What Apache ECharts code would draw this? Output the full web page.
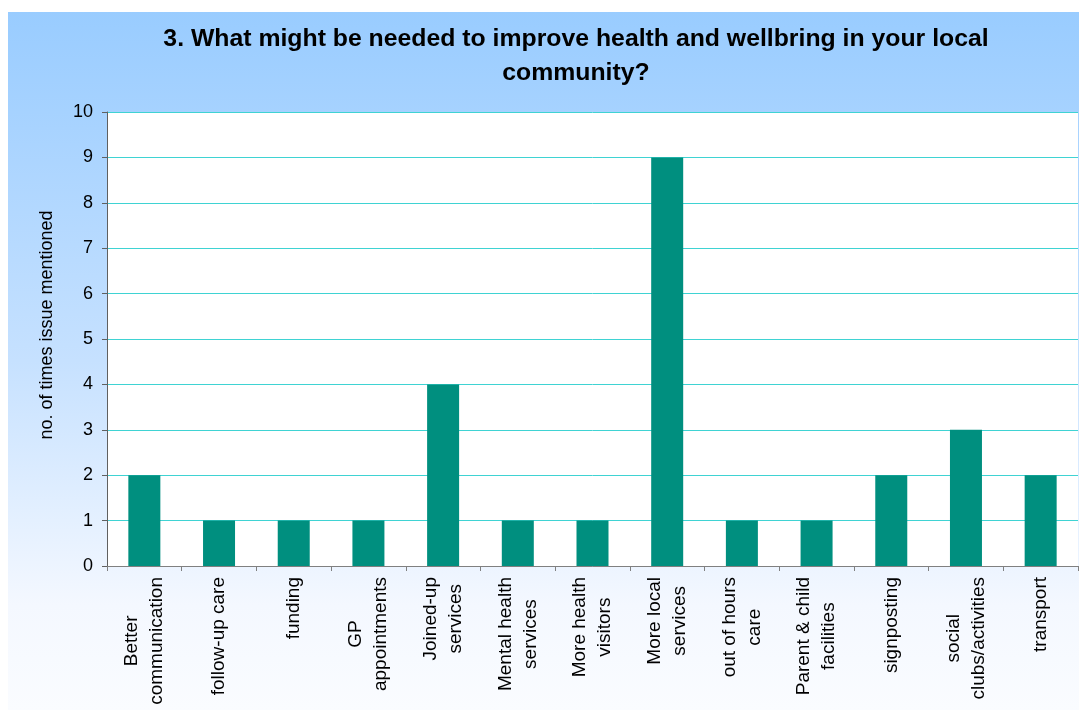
<!DOCTYPE html>
<html>
<head>
<meta charset="utf-8">
<script src="https://cdn.jsdelivr.net/npm/echarts@6/dist/echarts.min.js"></script>
<style>
html,body{margin:0;padding:0;background:#fff;}
#bg{position:absolute;left:8px;top:12px;width:1071px;height:698px;background:linear-gradient(to bottom,#99CCFF 0%,#C6E1FF 50%,#F4F8FF 85%,#FAFCFF 100%);}
#chart{position:absolute;left:0;top:0;width:1079px;height:710px;}
</style>
</head>
<body>
<div id="bg"></div>
<div id="chart"></div>
<script>
const titleText = "3. What might be needed to improve health and wellbring in your local\ncommunity?";
const categories = [
  "Better\ncommunication",
  "follow-up care",
  "funding",
  "GP\nappointments",
  "Joined-up\nservices",
  "Mental health\nservices",
  "More health\nvisitors",
  "More local\nservices",
  "out of hours\ncare",
  "Parent & child\nfacilities",
  "signposting",
  "social\nclubs/activities",
  "transport"
];
const counts = [2, 1, 1, 1, 4, 1, 1, 9, 1, 1, 2, 3, 2];
const yAxisName = "no. of times issue mentioned";
const yMin = 0, yMax = 10, yInterval = 1;

const FONT = 'Liberation Sans, Arial, sans-serif';
const chart = echarts.init(document.getElementById('chart'), null, {renderer: 'canvas'});
chart.setOption({
  backgroundColor: 'transparent',
  animation: false,
  title: {
    text: titleText,
    left: 571,
    top: 17,
    textAlign: 'center',
    textStyle: {
      fontFamily: FONT,
      fontSize: 24.8,
      fontWeight: 'bold',
      color: '#000',
      lineHeight: 34
    }
  },
  grid: {
    left: 107,
    top: 112,
    right: 1,
    bottom: 144,
    show: true,
    backgroundColor: '#ffffff',
    borderWidth: 0
  },
  xAxis: {
    type: 'category',
    data: categories,
    axisLine: {show: true, lineStyle: {color: '#808080', width: 1}},
    axisTick: {show: true, alignWithLabel: false, length: 5, lineStyle: {color: '#808080'}},
    axisLabel: {
      interval: 0,
      rotate: 90,
      margin: 11,
      color: '#000',
      fontFamily: FONT,
      fontSize: 19,
      lineHeight: 25,
      formatter: function (v) {
        return v.split('\n').map(function (s) { return '{c|' + s + '}'; }).join('\n');
      },
      rich: {
        c: {
          align: 'center',
          fontFamily: FONT,
          fontSize: 19,
          lineHeight: 25,
          color: '#000'
        }
      }
    }
  },
  yAxis: {
    type: 'value',
    min: yMin,
    max: yMax,
    interval: yInterval,
    name: yAxisName,
    nameLocation: 'middle',
    nameRotate: 90,
    nameGap: 51,
    nameTextStyle: {
      fontFamily: FONT,
      fontSize: 18,
      color: '#000',
      padding: [0, 0, 0, 28]
    },
    axisLine: {show: true, lineStyle: {color: '#606060', width: 1}},
    axisTick: {show: true, length: 5, lineStyle: {color: '#606060'}},
    axisLabel: {
      margin: 14,
      color: '#000',
      fontFamily: FONT,
      fontSize: 18
    },
    splitLine: {show: true, lineStyle: {color: '#3FD3D3', width: 1}}
  },
  series: [{
    type: 'bar',
    data: counts,
    barWidth: 32,
    itemStyle: {color: '#008F7F'}
  }]
});
</script>
</body>
</html>
